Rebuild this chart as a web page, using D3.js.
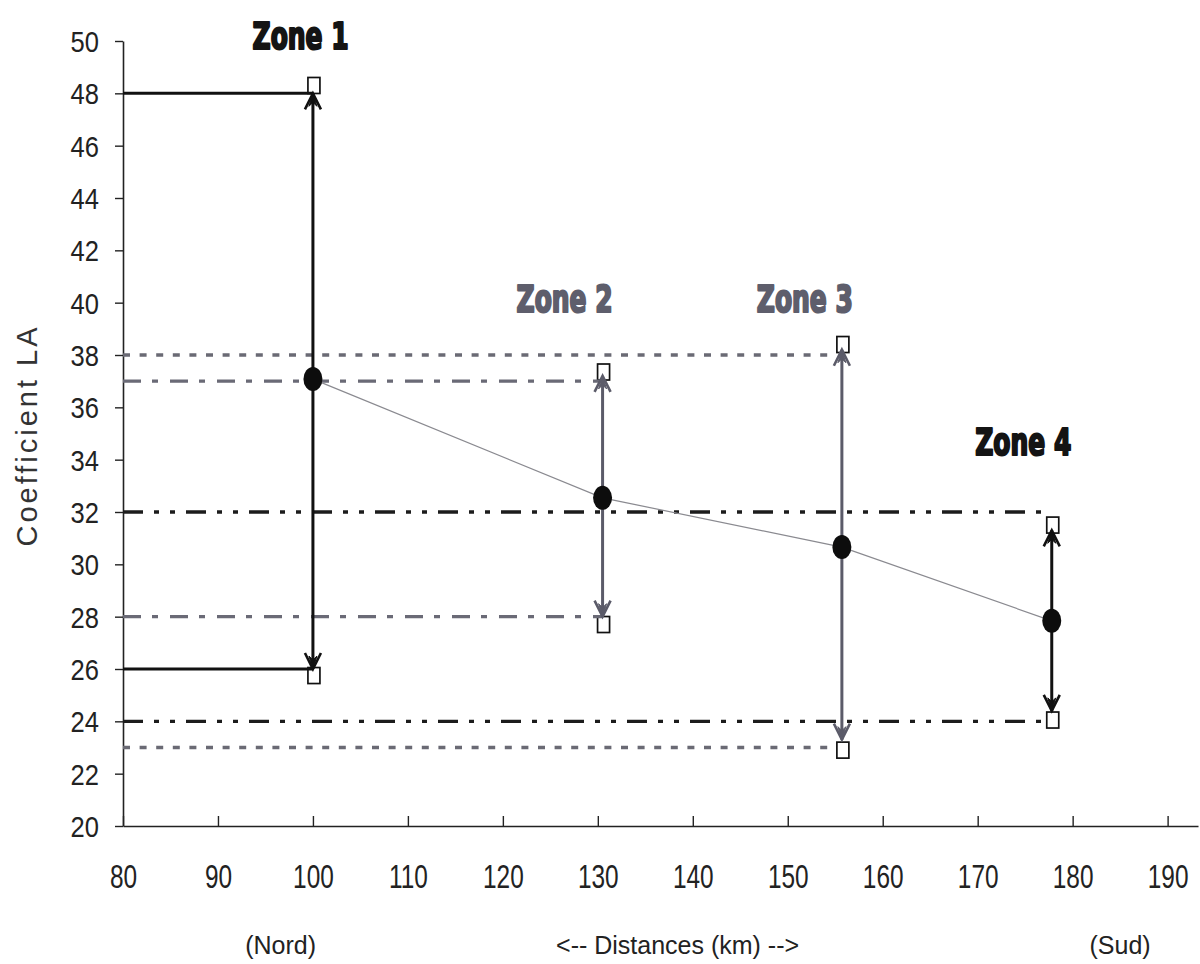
<!DOCTYPE html>
<html>
<head>
<meta charset="utf-8">
<script src="https://cdn.jsdelivr.net/npm/d3@7"></script>
<style>
  html, body { margin: 0; padding: 0; background: #fff; }
  svg { display: block; }
</style>
</head>
<body>
<svg id="chart" width="1200" height="964"></svg>
<script>
// ---- data ----
const zones = ["Zone 1", "Zone 2", "Zone 3", "Zone 4"];
const distances = [100, 130.5, 155.7, 177.8];
const means = [37.08, 32.54, 30.66, 27.84];
const arrowHigh = [48, 37.2, 38.2, 31.3];
const arrowLow = [26, 28, 23.3, 24.4];
const squareHigh = [48.3, 37.35, 38.4, 31.5];
const squareLow = [25.75, 27.7, 22.9, 24.05];
const refHigh = [48, 37, 38, 32];
const refLow = [26, 28, 23, 24];
const labelX = [98.7, 126.5, 151.8, 174.8];
const labelY = [49.7, 39.64, 39.64, 34.18];
const xTicks = [80, 90, 100, 110, 120, 130, 140, 150, 160, 170, 180, 190];
const yTicks = [20, 22, 24, 26, 28, 30, 32, 34, 36, 38, 40, 42, 44, 46, 48, 50];
const xNotes = ["(Nord)", "<-- Distances (km) -->", "(Sud)"];
const xNotePos = [96.6, 138.4, 185.0];
const yTitle = "Coefficient LA";

// ---- styles per zone ----
const zoneColor = ["#111111", "#5b5b69", "#5b5b69", "#111111"];
const labelColor = ["#141414", "#5e5e6c", "#5e5e6c", "#141414"];
const refColor = ["#111111", "#6a6a76", "#6a6a74", "#1c1c1c"];
const refDash = [null, "18,11,6,12", "7,9.6", "20,11,5,11,5,11"];

const svg = d3.select("#chart");
const x = d3.scaleLinear().domain([80, 193.2]).range([123, 1198]);
const y = d3.scaleLinear().domain([20, 50]).range([826, 41]);

// ---- axes ----
const sxY = 0.88, sxX = 0.74;
const yAxis = svg.append("g").attr("transform", `translate(${x(80)},0)`)
  .call(d3.axisLeft(y).tickValues(yTicks).tickSizeInner(8).tickSizeOuter(0).tickFormat(d3.format("d")));
yAxis.select(".domain").attr("stroke", "#222").attr("stroke-width", 1.6);
yAxis.selectAll(".tick line").attr("stroke", "#222").attr("stroke-width", 1.4);
yAxis.selectAll(".tick text")
  .attr("font-family", "'Liberation Sans', Arial, sans-serif")
  .attr("font-size", 29).attr("fill", "#222")
  .attr("text-anchor", "end")
  .attr("x", -24 / sxY).attr("dy", "0.36em")
  .attr("transform", `scale(${sxY},1)`);

const xAxis = svg.append("g").attr("transform", `translate(0,${y(20)})`)
  .call(d3.axisBottom(x).tickValues(xTicks).tickSizeInner(-10).tickSizeOuter(0).tickFormat(d3.format("d")));
xAxis.select(".domain").attr("stroke", "#222").attr("stroke-width", 1.6);
xAxis.selectAll(".tick line").attr("stroke", "#222").attr("stroke-width", 1.4);
xAxis.selectAll(".tick text")
  .attr("font-family", "'Liberation Sans', Arial, sans-serif")
  .attr("font-size", 33).attr("fill", "#222")
  .attr("y", 62).attr("dy", 0)
  .attr("transform", `scale(${sxX},1)`)
  .attr("x", 0);

// y title
svg.append("text")
  .attr("transform", `translate(37,${(y(50) + y(20)) / 2 + 2}) rotate(-90)`)
  .attr("text-anchor", "middle")
  .attr("font-family", "'Liberation Sans', Arial, sans-serif")
  .attr("font-size", 29).attr("letter-spacing", 3)
  .attr("fill", "#333")
  .text(yTitle);

// x notes
svg.selectAll("text.note").data(xNotes).join("text")
  .attr("class", "note")
  .attr("x", (d, i) => x(xNotePos[i]))
  .attr("y", 954)
  .attr("text-anchor", "middle")
  .attr("font-family", "'Liberation Sans', Arial, sans-serif")
  .attr("font-size", 25).attr("fill", "#222")
  .text(d => d);

const zdata = zones.map((z, i) => ({
  z, i, xd: distances[i], mean: means[i], hi: arrowHigh[i], lo: arrowLow[i],
  sqHi: squareHigh[i], sqLo: squareLow[i], rHi: refHigh[i], rLo: refLow[i],
  lx: labelX[i], ly: labelY[i]
}));

// squares (under everything)
const sqW = 12, sqH = 16;
const sqs = [];
zdata.forEach(d => { sqs.push({ d, v: d.sqHi }); sqs.push({ d, v: d.sqLo }); });
svg.append("g").selectAll("rect").data(sqs).join("rect")
  .attr("x", s => x(s.d.xd) + 1 - sqW / 2)
  .attr("y", s => y(s.v) - sqH / 2)
  .attr("width", sqW).attr("height", sqH)
  .attr("fill", "#fff").attr("stroke", "#111").attr("stroke-width", 1.7);

// reference lines
const refs = [];
zdata.forEach(d => { refs.push({ d, v: d.rHi }); refs.push({ d, v: d.rLo }); });
svg.append("g").selectAll("line").data(refs).join("line")
  .attr("x1", x(80)).attr("x2", r => x(r.d.xd) - (r.d.i === 2 ? 9 : 0))
  .attr("y1", r => y(r.v)).attr("y2", r => y(r.v))
  .attr("stroke", r => refColor[r.d.i])
  .attr("stroke-width", r => r.d.i === 0 ? 3 : 3.4)
  .attr("stroke-dasharray", r => refDash[r.d.i]);

// mean line
svg.append("path")
  .datum(zdata)
  .attr("d", d3.line().x(d => x(d.xd)).y(d => y(d.mean)))
  .attr("fill", "none").attr("stroke", "#8a8a90").attr("stroke-width", 1.2);

// arrows
const ag = svg.append("g");
zdata.forEach(d => {
  const cx = x(d.xd), c = zoneColor[d.i];
  ag.append("line")
    .attr("x1", cx).attr("x2", cx)
    .attr("y1", y(d.hi)).attr("y2", y(d.lo))
    .attr("stroke", c).attr("stroke-width", 3);
  [[y(d.hi), 1], [y(d.lo), -1]].forEach(([ty, dir]) => {
    ag.append("path")
      .attr("d", `M${cx - 8},${ty + dir * 16} L${cx},${ty} L${cx + 8},${ty + dir * 16}`)
      .attr("fill", "none").attr("stroke", c).attr("stroke-width", 2.6)
      .attr("stroke-linejoin", "miter");
    ag.append("path")
      .attr("d", `M${cx},${ty} L${cx - 4},${ty + dir * 13} L${cx},${ty + dir * 9} L${cx + 4},${ty + dir * 13} Z`)
      .attr("fill", c).attr("stroke", c).attr("stroke-width", 1);
  });
});

// mean dots
svg.append("g").selectAll("ellipse").data(zdata).join("ellipse")
  .attr("cx", d => x(d.xd)).attr("cy", d => y(d.mean))
  .attr("rx", 9.5).attr("ry", 12)
  .attr("fill", "#0d0d0d");

// zone labels
svg.append("g").selectAll("text").data(zdata).join("text")
  .attr("x", d => x(d.lx)).attr("y", d => y(d.ly))
  .attr("text-anchor", "middle")
  .attr("font-family", "'DejaVu Sans Condensed', 'DejaVu Sans', sans-serif")
  .attr("font-weight", "bold")
  .attr("font-size", 38)
  .attr("textLength", 96).attr("lengthAdjust", "spacingAndGlyphs")
  .attr("fill", d => labelColor[d.i])
  .attr("stroke", d => labelColor[d.i]).attr("stroke-width", 2.2)
  .attr("stroke-linejoin", "round")
  .text(d => d.z);
</script>
</body>
</html>
